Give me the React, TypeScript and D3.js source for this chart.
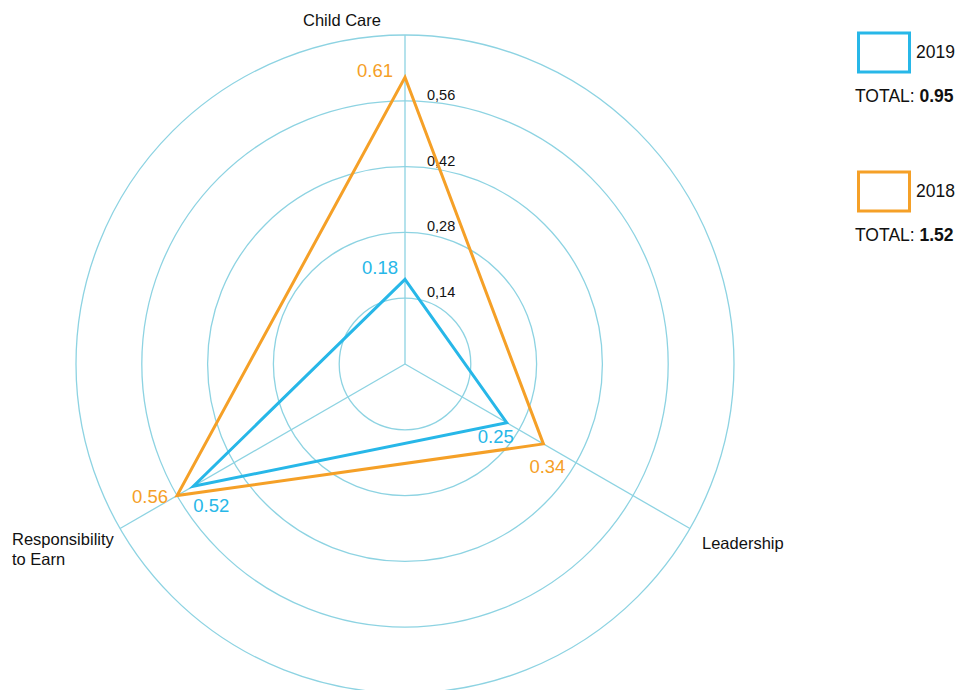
import React from "react";
import * as d3 from "d3";

const axes = ["Child Care", "Leadership", "Responsibility to Earn"];
const values2019 = [0.18, 0.25, 0.52];
const values2018 = [0.61, 0.34, 0.56];
const ringTicks = [0.14, 0.28, 0.42, 0.56, 0.7];
const tickLabels = ["0,14", "0,28", "0,42", "0,56"];
const seriesNames = ["2019", "2018"];
const totals = ["0.95", "1.52"];

const BLUE = "#27b7e8";
const ORANGE = "#f5a027";
const GRID = "#8dd3e2";
const FONT = "'Liberation Sans', Arial, Helvetica, sans-serif";

const cx = 405;
const cy = 364;
const R = 329;

export default function App() {
  const r = d3.scaleLinear().domain([0, 0.7]).range([0, R]);
  const angle = d3
    .scaleLinear()
    .domain([0, axes.length])
    .range([-Math.PI / 2, (3 * Math.PI) / 2]);
  const pt = (i: number, v: number): [number, number] => [
    cx + r(v) * Math.cos(angle(i)),
    cy + r(v) * Math.sin(angle(i)),
  ];
  const line = d3.line().curve(d3.curveLinearClosed);

  // label offsets relative to vertex (style)
  const off2019 = [
    { dx: -7, dy: -5, anchor: "end" },
    { dx: -11, dy: 20, anchor: "middle" },
    { dx: 0, dy: 26, anchor: "start" },
  ];
  const off2018 = [
    { dx: -12, dy: 0, anchor: "end" },
    { dx: 4, dy: 29, anchor: "middle" },
    { dx: -9, dy: 7, anchor: "end" },
  ];

  const series = [
    { name: seriesNames[0], values: values2019, color: BLUE, off: off2019 },
    { name: seriesNames[1], values: values2018, color: ORANGE, off: off2018 },
  ];

  return (
    <svg
      width={960}
      height={690}
      style={{ position: "absolute", left: 0, top: 0, background: "#fff" }}
      fontFamily={FONT}
    >
      {ringTicks.map((t) => (
        <circle key={t} cx={cx} cy={cy} r={r(t)} fill="none" stroke={GRID} strokeWidth={1.3} />
      ))}
      {axes.map((a, i) => {
        const [x, y] = pt(i, 0.7);
        return <line key={a} x1={cx} y1={cy} x2={x} y2={y} stroke={GRID} strokeWidth={1.3} />;
      })}
      {tickLabels.map((lab, i) => (
        <text key={lab} x={cx + 22} y={cy - r(ringTicks[i]) - 1} fontSize={14.5} fill="#111">
          {lab}
        </text>
      ))}
      {series.map((s) => (
        <path
          key={s.name}
          d={line(s.values.map((v, i) => pt(i, v))) || ""}
          fill="none"
          stroke={s.color}
          strokeWidth={3}
          strokeLinejoin="miter"
        />
      ))}
      {series.map((s) =>
        s.values.map((v, i) => {
          const [x, y] = pt(i, v);
          return (
            <text
              key={s.name + i}
              x={x + s.off[i].dx}
              y={y + s.off[i].dy}
              textAnchor={s.off[i].anchor}
              fontSize={18.5}
              fill={s.color}
            >
              {v.toFixed(2)}
            </text>
          );
        })
      )}
      {/* axis labels */}
      <text x={342} y={26} textAnchor="middle" fontSize={16.5} fill="#111">
        {axes[0]}
      </text>
      <text x={702} y={549} fontSize={16.5} fill="#111">
        {axes[1]}
      </text>
      <text x={12} y={545} fontSize={16.5} fill="#111">
        <tspan x={12}>{axes[2].split(" ")[0]}</tspan>
        <tspan x={12} dy={20}>
          {axes[2].split(" ").slice(1).join(" ")}
        </tspan>
      </text>
      {/* legend */}
      {series.map((s, k) => {
        const y0 = 33 + k * 139;
        return (
          <g key={s.name}>
            <rect x={858.5} y={y0} width={51} height={39} fill="none" stroke={s.color} strokeWidth={3} />
            <text x={916} y={y0 + 25} fontSize={17.5} fill="#111">
              {s.name}
            </text>
            <text x={855} y={y0 + 69} fontSize={17.5} fill="#111">
              TOTAL: <tspan fontWeight="bold">{totals[k]}</tspan>
            </text>
          </g>
        );
      })}
    </svg>
  );
}
